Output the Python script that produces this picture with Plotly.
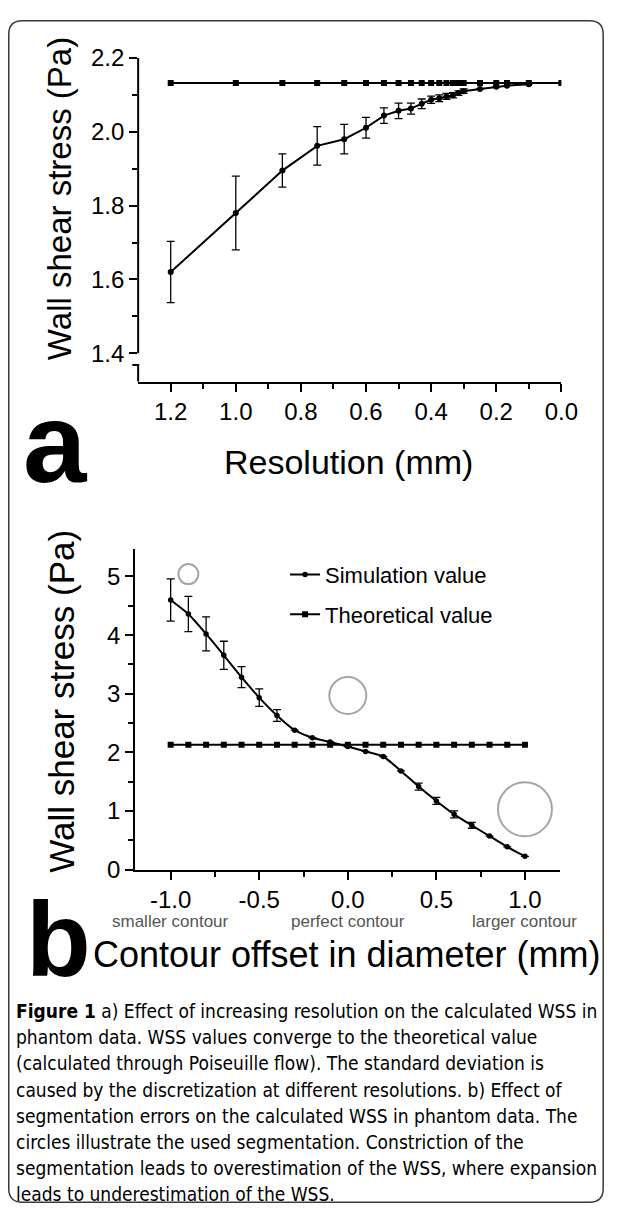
import plotly.graph_objects as go

W, H = 627, 1222

# ---------------- Panel a: resolution study ----------------
res_theory = [1.2, 1.0, 0.857, 0.75, 0.667, 0.6, 0.545, 0.5, 0.462, 0.429, 0.4,
              0.375, 0.353, 0.333, 0.316, 0.3, 0.25, 0.2, 0.167, 0.1, 0.0]
wss_theory_a = [2.132, 2.132, 2.132, 2.132, 2.132, 2.132, 2.132, 2.132, 2.132, 2.132, 2.132,
                2.132, 2.132, 2.132, 2.132, 2.132, 2.132, 2.132, 2.132, 2.132, 2.132]
res_sim = [1.2, 1.0, 0.857, 0.75, 0.667, 0.6, 0.545, 0.5, 0.462, 0.429, 0.4,
           0.375, 0.353, 0.333, 0.316, 0.3, 0.25, 0.2, 0.167, 0.1]
wss_sim_a = [1.62, 1.78, 1.895, 1.962, 1.98, 2.011, 2.044, 2.057, 2.063, 2.076, 2.087,
             2.091, 2.096, 2.099, 2.105, 2.11, 2.116, 2.122, 2.125, 2.129]
sd_sim_a = [0.083, 0.10, 0.045, 0.052, 0.04, 0.028, 0.021, 0.021, 0.015, 0.013, 0.010,
            0.009, 0.008, 0.007, 0.006, 0.006, None, None, None, None]
xticks_a = [1.2, 1.0, 0.8, 0.6, 0.4, 0.2, 0.0]
xticktext_a = ["1.2", "1.0", "0.8", "0.6", "0.4", "0.2", "0.0"]
xminor_a = [1.1, 0.9, 0.7, 0.5, 0.3, 0.1]
yticks_a = [1.4, 1.6, 1.8, 2.0, 2.2]
yticktext_a = ["1.4", "1.6", "1.8", "2.0", "2.2"]
yminor_a = [1.5, 1.7, 1.9, 2.1]

# ---------------- Panel b: contour offset study ----------------
offset = [-1.0, -0.9, -0.8, -0.7, -0.6, -0.5, -0.4, -0.3, -0.2, -0.1, 0.0,
          0.1, 0.2, 0.3, 0.4, 0.5, 0.6, 0.7, 0.8, 0.9, 1.0]
wss_theory_b = [2.13, 2.13, 2.13, 2.13, 2.13, 2.13, 2.13, 2.13, 2.13, 2.13, 2.13,
                2.13, 2.13, 2.13, 2.13, 2.13, 2.13, 2.13, 2.13, 2.13, 2.13]
wss_sim_b = [4.60, 4.36, 4.02, 3.655, 3.283, 2.933, 2.628, 2.378, 2.25, 2.178, 2.10,
             2.017, 1.93, 1.683, 1.417, 1.172, 0.944, 0.756, 0.572, 0.389, 0.228]
sd_sim_b = [0.36, 0.30, 0.29, 0.24, 0.18, 0.15, 0.10, None, None, None, None,
            None, None, None, 0.06, 0.06, 0.06, 0.05, None, None, None]
xticks_b = [-1.0, -0.5, 0.0, 0.5, 1.0]
xticktext_b = ["-1.0", "-0.5", "0.0", "0.5", "1.0"]
xminor_b = [-0.75, -0.25, 0.25, 0.75]
yticks_b = [0, 1, 2, 3, 4, 5]
yticktext_b = ["0", "1", "2", "3", "4", "5"]
yminor_b = [0.5, 1.5, 2.5, 3.5, 4.5]
contour_labels = ["smaller contour", "perfect contour", "larger contour"]
contour_label_x = [-1.0, 0.0, 1.0]
# illustrative segmentation circles (centre in data units, radius in px)
circle_x = [-0.9, 0.0, 1.0]
circle_y = [5.04, 2.97, 1.03]
circle_r = [10, 18.5, 27]

caption_lines = [
    "<b>Figure 1</b> a) Effect of increasing resolution on the calculated WSS in",
    "phantom data. WSS values converge to the theoretical value",
    "(calculated through Poiseuille flow). The standard deviation is",
    "caused by the discretization at different resolutions. b) Effect of",
    "segmentation errors on the calculated WSS in phantom data. The",
    "circles illustrate the used segmentation. Constriction of the",
    "segmentation leads to overestimation of the WSS, where expansion",
    "leads to underestimation of the WSS.",
]

FONT = "Liberation Sans, Arial, sans-serif"
CAPFONT = "Liberation Sans Narrow, DejaVu Sans Condensed, Open Sans, sans-serif"


def px(x):
    return x / W


def py(y):
    return 1 - y / H


fig = go.Figure()

# panel a traces
fig.add_trace(go.Scatter(x=res_theory, y=wss_theory_a, mode="lines+markers",
                         line=dict(color="black", width=2),
                         marker=dict(symbol="square", size=6, color="black"),
                         xaxis="x", yaxis="y", showlegend=False, name="Theoretical value"))
fig.add_trace(go.Scatter(x=res_sim, y=wss_sim_a, mode="lines+markers",
                         line=dict(color="black", width=2),
                         marker=dict(symbol="circle", size=6, color="black"),
                         error_y=dict(type="data", array=sd_sim_a, visible=True,
                                      color="black", thickness=1.3, width=4),
                         xaxis="x", yaxis="y", showlegend=False, name="Simulation value"))

# panel b traces
fig.add_trace(go.Scatter(x=offset, y=wss_sim_b, mode="lines+markers",
                         line=dict(color="black", width=2, shape="spline", smoothing=0.6),
                         marker=dict(symbol="circle", size=5.5, color="black"),
                         error_y=dict(type="data", array=sd_sim_b, visible=True,
                                      color="black", thickness=1.3, width=4),
                         xaxis="x2", yaxis="y2", name="Simulation value",
                         legendgroup="sim"))
fig.add_trace(go.Scatter(x=offset, y=wss_theory_b, mode="lines+markers",
                         line=dict(color="black", width=2),
                         marker=dict(symbol="square", size=6, color="black"),
                         xaxis="x2", yaxis="y2", name="Theoretical value",
                         legendgroup="theo"))

axis_common = dict(showgrid=False, zeroline=False, ticks="outside", ticklen=8,
                   tickwidth=2, tickcolor="black", linecolor="black", linewidth=2,
                   tickfont=dict(family=FONT, size=24, color="black"))

Y_BOT_A = 1.323   # value at the x axis of panel a (below the axis break)
BRK_TOP = 1.4     # upper end of the axis break
BRK_LOW = 1.368   # lower end of the axis break

fig.update_layout(
    width=W, height=H, autosize=False,
    margin=dict(l=0, r=0, t=0, b=0),
    paper_bgcolor="white", plot_bgcolor="white",
    font=dict(family=FONT, color="black"),
    xaxis=dict(domain=[px(142), px(577)], range=[1.3, 0.0], anchor="y",
               showline=True, tickmode="array", tickvals=xticks_a, ticktext=xticktext_a,
               minor=dict(tickmode="array", tickvals=xminor_a, ticks="outside",
                          ticklen=5, tickwidth=2, tickcolor="black"),
               **axis_common),
    yaxis=dict(domain=[py(376), py(45)], range=[Y_BOT_A, 2.2], anchor="x",
               showline=False, tickmode="array", tickvals=yticks_a, ticktext=yticktext_a,
               minor=dict(tickmode="array", tickvals=yminor_a, ticks="outside",
                          ticklen=5, tickwidth=2, tickcolor="black"),
               **axis_common),
    xaxis2=dict(domain=[px(139), px(576)], range=[-1.2, 1.2], anchor="y2",
                showline=True, tickmode="array", tickvals=xticks_b, ticktext=xticktext_b,
                minor=dict(tickmode="array", tickvals=xminor_b, ticks="outside",
                           ticklen=5, tickwidth=2, tickcolor="black"),
                **axis_common),
    yaxis2=dict(domain=[py(875), py(547)], range=[0, 5.47], anchor="x2",
                showline=True, tickmode="array", tickvals=yticks_b, ticktext=yticktext_b,
                minor=dict(tickmode="array", tickvals=yminor_b, ticks="outside",
                           ticklen=5, tickwidth=2, tickcolor="black"),
                **axis_common),
    legend=dict(x=px(293), y=py(552), xanchor="left", yanchor="top",
                font=dict(family=FONT, size=22, color="black"),
                bgcolor="rgba(0,0,0,0)", tracegroupgap=8, itemwidth=30),
)

shapes = []
# broken y axis of panel a
shapes.append(dict(type="line", xref="x domain", yref="y", x0=0, x1=0, y0=BRK_TOP, y1=2.2,
                   line=dict(color="black", width=2)))
shapes.append(dict(type="line", xref="x domain", yref="y", x0=0, x1=0, y0=Y_BOT_A, y1=BRK_LOW,
                   line=dict(color="black", width=2)))
shapes.append(dict(type="line", xref="paper", yref="y", x0=px(136), x1=px(143),
                   y0=BRK_LOW, y1=BRK_LOW, line=dict(color="black", width=2)))
# segmentation circles
for cx, cy, r in zip(circle_x, circle_y, circle_r):
    shapes.append(dict(type="circle", xref="x2", yref="y2", xsizemode="pixel",
                       ysizemode="pixel", xanchor=cx, yanchor=cy, x0=-r, x1=r, y0=-r, y1=r,
                       line=dict(color="#a6a6a6", width=2)))
# rounded frame
x0f, x1f, y0f, y1f = px(9), px(620), py(7), py(1215)
rx, ry = 14 / W, 14 / H
path = (f"M{x0f + rx},{y0f} L{x1f - rx},{y0f} Q{x1f},{y0f} {x1f},{y0f - ry} "
        f"L{x1f},{y1f + ry} Q{x1f},{y1f} {x1f - rx},{y1f} L{x0f + rx},{y1f} "
        f"Q{x0f},{y1f} {x0f},{y1f + ry} L{x0f},{y0f - ry} Q{x0f},{y0f} {x0f + rx},{y0f} Z")
shapes.append(dict(type="path", xref="paper", yref="paper", path=path,
                   line=dict(color="#3a3a3a", width=1.5)))
fig.update_layout(shapes=shapes)

ann = []


def add_text(text, x, y, size, **kw):
    d = dict(text=text, xref="paper", yref="paper", x=px(x), y=py(y), showarrow=False,
             xanchor=kw.pop("xanchor", "center"), yanchor=kw.pop("yanchor", "middle"),
             font=dict(family=kw.pop("family", FONT), size=size, color=kw.pop("color", "black")))
    d.update(kw)
    ann.append(d)


add_text("Wall shear stress (Pa)", 62, 189, 33, textangle=-90)
add_text("Resolution (mm)", 358, 458, 34)
add_text("<b>a</b>", 57, 438, 114)
add_text("Wall shear stress (Pa)", 63, 703, 35, textangle=-90)
add_text("Contour offset in diameter (mm)", 357, 962, 36)
add_text("<b>b</b>", 60, 946, 106)
for lab, lx in zip(contour_labels, contour_label_x):
    ann.append(dict(text=lab, xref="x2", yref="paper", x=lx, y=py(928), showarrow=False,
                    xanchor="center", yanchor="middle",
                    font=dict(family=FONT, size=17, color="#555555")))
for i, line in enumerate(caption_lines):
    add_text(line, 14, 1020 + 26.6 * i, 19, xanchor="left", family=CAPFONT)

fig.update_layout(annotations=ann)

fig.write_html("out.html", config={"displayModeBar": False},
               post_script="document.body.style.margin='0';")
